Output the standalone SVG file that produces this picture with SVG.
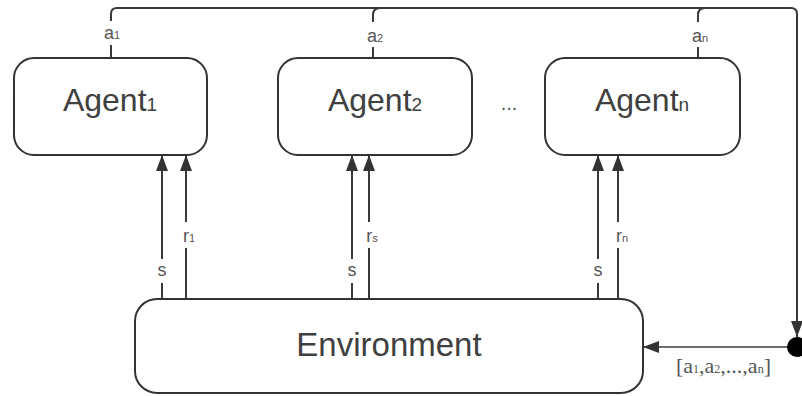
<svg xmlns="http://www.w3.org/2000/svg" width="802" height="396" viewBox="0 0 802 396">
<defs>
<style>
.box{fill:#fff;stroke:#333;stroke-width:2}
.ln{fill:none;stroke:#3a3a3a;stroke-width:2}
.t{font-family:"Liberation Sans",Arial,sans-serif;fill:#404040;text-anchor:middle}
.big{font-size:32px}
.sub{font-size:19px}
.lb{font-family:"Liberation Sans",Arial,sans-serif;font-size:18px;fill:#555;text-anchor:middle}
.lbs{font-size:11px}
.ls{font-family:"Liberation Serif","Times New Roman",serif;font-size:22px;fill:#555}
</style>
<marker id="ah" viewBox="0 0 16 12" refX="16" refY="6" markerWidth="16" markerHeight="12" markerUnits="userSpaceOnUse" orient="auto">
<path d="M0,0 L16,6 L0,12 Z" fill="#333"/>
</marker>
</defs>
<rect width="802" height="396" fill="#fff"/>
<g id="connectors">
<path class="ln" d="M111,21 V14 Q111,8 117,8 H791 Q797,8 797,14 V337" marker-end="url(#ah)"/>
<path class="ln" d="M111,45 V57"/>
<path class="ln" d="M380,8 Q373,8 373,15 V22"/>
<path class="ln" d="M373,47 V57"/>
<path class="ln" d="M705,8 Q698,8 698,15 V22"/>
<path class="ln" d="M698,47 V57"/>
<path class="ln" style="stroke-width:1.5" d="M788,347 H643" marker-end="url(#ah)"/>
<path class="ln" d="M162,299 V283 M162,259 V155" marker-end="url(#ah)"/>
<path class="ln" d="M186,299 V248 M186,222 V155" marker-end="url(#ah)"/>
<path class="ln" d="M352,299 V283 M352,259 V155" marker-end="url(#ah)"/>
<path class="ln" d="M369,299 V248 M369,222 V155" marker-end="url(#ah)"/>
<path class="ln" d="M598,299 V283 M598,259 V155" marker-end="url(#ah)"/>
<path class="ln" d="M618,299 V248 M618,222 V155" marker-end="url(#ah)"/>
<text class="lb" x="112" y="39">a<tspan class="lbs">1</tspan></text>
<text class="lb" x="375" y="42">a<tspan class="lbs">2</tspan></text>
<text class="lb" x="700" y="42">a<tspan class="lbs">n</tspan></text>
<text class="lb" x="162" y="276">s</text>
<text class="lb" x="189" y="242">r<tspan class="lbs">1</tspan></text>
<text class="lb" x="352" y="276">s</text>
<text class="lb" x="372" y="242">r<tspan class="lbs">s</tspan></text>
<text class="lb" x="598" y="276">s</text>
<text class="lb" x="622" y="242">r<tspan class="lbs">n</tspan></text>
<text class="ls" x="676" y="373">[a<tspan font-size="12">1</tspan>,a<tspan font-size="12">2</tspan>,...,a<tspan font-size="12">n</tspan>]</text>
</g>
<g id="agent1">
<rect class="box" x="14" y="58" width="193" height="97" rx="20"/>
<text class="t big" x="110" y="111">Agent<tspan class="sub">1</tspan></text>
</g>
<g id="agent2">
<rect class="box" x="278" y="58" width="194" height="97" rx="20"/>
<text class="t big" x="375" y="111">Agent<tspan class="sub">2</tspan></text>
</g>
<g id="dots">
<text class="t" style="font-size:20px;fill:#555" x="509" y="110">...</text>
</g>
<g id="agentn">
<rect class="box" x="545" y="58" width="195" height="97" rx="20"/>
<text class="t big" x="642" y="111">Agent<tspan class="sub">n</tspan></text>
</g>
<g id="environment">
<rect class="box" x="135" y="299" width="508" height="94" rx="22"/>
<text class="t" style="font-size:33px" x="389" y="356">Environment</text>
</g>
<g id="junction">
<circle cx="797" cy="347" r="10" fill="#000"/>
</g>
</svg>
